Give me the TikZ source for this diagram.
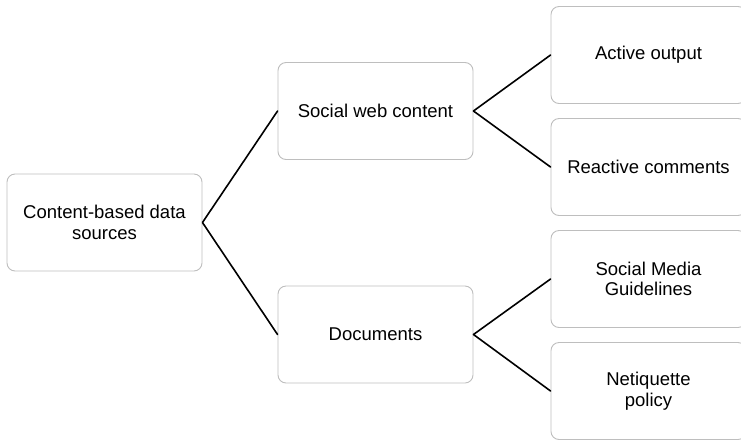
\documentclass[tikz,border=0pt]{standalone}
\usepackage{fontspec}
\setmainfont{Liberation Sans}
\definecolor{boxgray}{RGB}{190,190,190}
\begin{document}
\begin{tikzpicture}[x=1pt,y=-1pt,line join=round,line cap=round,
	font=\fontsize{18.5}{20.5}\selectfont,
	item/.style={draw=boxgray,line width=0.9pt,rounded corners=8pt,fill=white,
		minimum width=195pt,minimum height=97pt,align=center,inner sep=2pt},
	link/.style={line width=1.6pt,black}]
	\useasboundingbox (0,0) rectangle (741,440);
	\clip (0,0) rectangle (741,440);
	\def\xa{104.5} \def\xb{375.5} \def\xc{648.5}
	\node[item] (src) at (\xa,222.5) {Content-based data\\sources};
	\node[item] (social) at (\xb,111) {Social web content};
	\node[item] (docs) at (\xb,334.5) {Documents};
	\node[item] (active) at (\xc,55) {Active output};
	\node[item] (reactive) at (\xc,167) {Reactive comments};
	\node[item] (smg) at (\xc,279) {Social Media\\Guidelines};
	\node[item] (neti) at (\xc,391) {Netiquette\\policy};
	\draw[link] (social.west)--(src.east)--(docs.west);
	\draw[link] (active.west)--(social.east)--(reactive.west);
	\draw[link] (smg.west)--(docs.east)--(neti.west);
\end{tikzpicture}
\end{document}
